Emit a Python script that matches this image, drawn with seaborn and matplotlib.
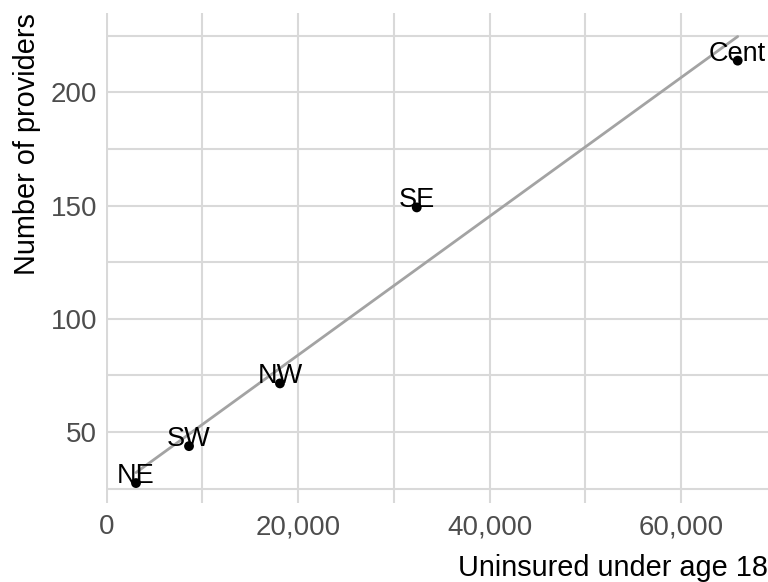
import matplotlib
matplotlib.use("Agg")
import matplotlib.pyplot as plt
import seaborn as sns
import pandas as pd
from matplotlib.ticker import FuncFormatter, MultipleLocator

regions = ["NE", "SW", "NW", "SE", "Cent"]
uninsured = [3060, 8600, 18100, 32390, 65920]
providers = [27.5, 43.8, 71.5, 149.2, 214]

df = pd.DataFrame({"region": regions, "uninsured": uninsured, "providers": providers})

sns.set_theme(style="whitegrid")
plt.rcParams["font.family"] = ["Liberation Sans", "DejaVu Sans"]

fig = plt.figure(figsize=(7.68, 5.82), dpi=100)
ax = fig.add_axes([106 / 768, 79 / 582, (768 - 106) / 768, (503 - 13.3) / 582])

sns.regplot(data=df, x="uninsured", y="providers", ax=ax, scatter=False, ci=None,
            truncate=True, line_kws=dict(color="#A3A3A3", lw=2.0, zorder=3))
sns.scatterplot(data=df, x="uninsured", y="providers", ax=ax, color="black",
                s=50, edgecolor="none", zorder=4)
for r, xv, yv in zip(df["region"], df["uninsured"], df["providers"]):
    ax.text(xv, yv, r, ha="center", va="baseline", fontsize=19.5, color="black", zorder=5)

ax.set_xlim(-73, 69087)
ax.set_ylim(18.7, 234.9)
ax.xaxis.set_major_locator(MultipleLocator(20000))
ax.xaxis.set_minor_locator(MultipleLocator(10000))
ax.yaxis.set_major_locator(MultipleLocator(50))
ax.yaxis.set_minor_locator(MultipleLocator(25))
ax.xaxis.set_major_formatter(FuncFormatter(lambda v, p: f"{int(v):,}"))
ax.grid(which="both", color="#D9D9D9", lw=1.5)
for s in ax.spines.values():
    s.set_visible(False)
ax.set_facecolor("white")
ax.tick_params(axis="both", which="both", length=0, labelsize=20, labelcolor="#4D4D4D")
ax.tick_params(axis="x", pad=8)
ax.tick_params(axis="y", pad=6.5)
ax.set_xlabel("Uninsured under age 18", loc="right", fontsize=20.8, color="black", labelpad=10)
ax.set_ylabel("Number of providers", loc="top", fontsize=20.8, color="black", labelpad=7)

fig.savefig("out.png", dpi=100, facecolor="white")
